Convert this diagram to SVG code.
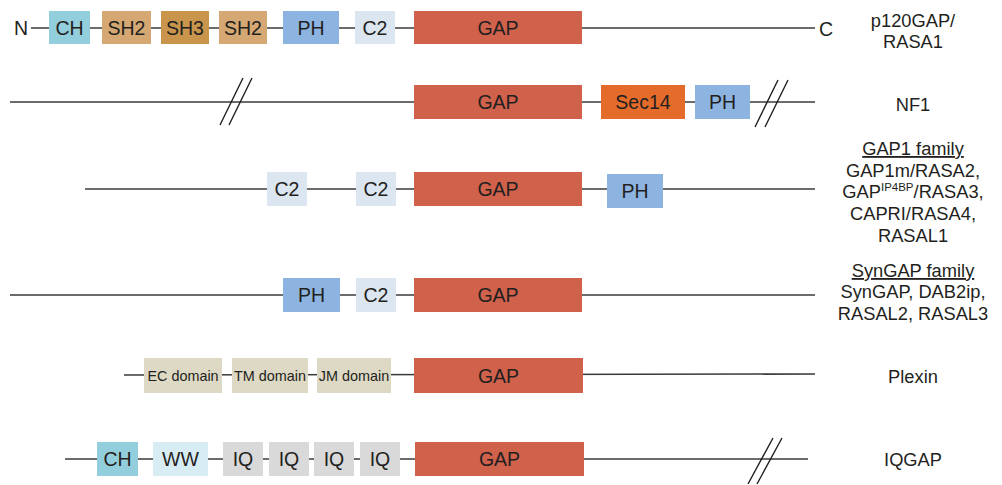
<svg xmlns="http://www.w3.org/2000/svg" width="1002" height="485" viewBox="0 0 1002 485">
  <style>
    text { font-family: "Liberation Sans", Arial, sans-serif; fill: #231f20; }
    .lbl { font-size: 19.5px; text-anchor: middle; }
    .dom { font-size: 14.4px; text-anchor: middle; }
    .name { font-size: 18.3px; text-anchor: middle; }
    .bb { stroke: #3a3a3a; stroke-width: 1.6; fill: none; }
    .brk { stroke: #231f20; stroke-width: 1.4; fill: none; }
    .ch { fill: #92cedc; }
    .sh2 { fill: #d4a773; }
    .sh3 { fill: #c9954c; }
    .ph { fill: #8db3e0; }
    .c2 { fill: #dbe6f1; }
    .gap { fill: #d0614b; }
    .sec { fill: #e56b2a; }
    .tm { fill: #ddd9c4; }
    .ww { fill: #d8ecf4; }
    .iq { fill: #d9d9d9; }
  </style>

  <!-- backbone lines and break marks -->
  <g id="connectors">
    <line class="bb" x1="31" y1="28" x2="815" y2="28"/>
    <line class="bb" x1="10" y1="102" x2="815" y2="102"/>
    <path class="brk" d="M220,125 L243,78 M229,125 L252,78"/>
    <path class="brk" d="M755,127 L778,80 M765,127 L788,80"/>
    <line class="bb" x1="85" y1="189" x2="815" y2="189"/>
    <line class="bb" x1="10" y1="295" x2="815" y2="295"/>
    <line class="bb" x1="124" y1="375" x2="815" y2="374"/>
    <line class="bb" x1="65" y1="459" x2="808" y2="459"/>
    <path class="brk" d="M748,484 L773,438 M757,484 L782,438"/>
  </g>

  <!-- p120GAP / RASA1 -->
  <g id="p120gap">
    <text class="lbl" x="21" y="35">N</text>
    <rect class="ch" x="49" y="11" width="41" height="33"/>
    <text class="lbl" x="69.5" y="35">CH</text>
    <rect class="sh2" x="102" y="11" width="49" height="33"/>
    <text class="lbl" x="126.5" y="35">SH2</text>
    <rect class="sh3" x="161" y="11" width="48" height="33"/>
    <text class="lbl" x="185" y="35">SH3</text>
    <rect class="sh2" x="219" y="11" width="48" height="33"/>
    <text class="lbl" x="243" y="35">SH2</text>
    <rect class="ph" x="283" y="11" width="56" height="33"/>
    <text class="lbl" x="311" y="35">PH</text>
    <rect class="c2" x="355" y="11" width="40" height="33"/>
    <text class="lbl" x="375" y="35">C2</text>
    <rect class="gap" x="414" y="11" width="168" height="33"/>
    <text class="lbl" x="498" y="35">GAP</text>
    <text class="lbl" x="826" y="35.5">C</text>
    <text class="name" x="913" y="27">p120GAP/</text>
    <text class="name" x="913" y="48">RASA1</text>
  </g>

  <!-- NF1 -->
  <g id="nf1">
    <rect class="gap" x="414" y="85" width="168" height="34"/>
    <text class="lbl" x="498" y="109">GAP</text>
    <rect class="sec" x="601" y="85" width="84" height="34"/>
    <text class="lbl" x="643" y="109">Sec14</text>
    <rect class="ph" x="695" y="85" width="55" height="34"/>
    <text class="lbl" x="722.5" y="109">PH</text>
    <text class="name" x="913" y="111">NF1</text>
  </g>

  <!-- GAP1 family -->
  <g id="gap1">
    <rect class="c2" x="267" y="172" width="40" height="34"/>
    <text class="lbl" x="287" y="196">C2</text>
    <rect class="c2" x="356" y="172" width="40" height="34"/>
    <text class="lbl" x="376" y="196">C2</text>
    <rect class="gap" x="414" y="172" width="168" height="34"/>
    <text class="lbl" x="498" y="196">GAP</text>
    <rect class="ph" x="607" y="174" width="56" height="34"/>
    <text class="lbl" x="635" y="198">PH</text>
    <text class="name" x="913" y="155" text-decoration="underline">GAP1 family</text>
    <text class="name" x="913" y="176.5">GAP1m/RASA2,</text>
    <text class="name" x="913" y="198">GAP<tspan font-size="11.5" dy="-7">IP4BP</tspan><tspan dy="7">/RASA3,</tspan></text>
    <text class="name" x="913" y="220">CAPRI/RASA4,</text>
    <text class="name" x="913" y="242">RASAL1</text>
  </g>

  <!-- SynGAP family -->
  <g id="syngap">
    <rect class="ph" x="283" y="278" width="57" height="34"/>
    <text class="lbl" x="311.5" y="302">PH</text>
    <rect class="c2" x="356" y="278" width="40" height="34"/>
    <text class="lbl" x="376" y="302">C2</text>
    <rect class="gap" x="414" y="278" width="168" height="34"/>
    <text class="lbl" x="498" y="302">GAP</text>
    <text class="name" x="913" y="277" text-decoration="underline">SynGAP family</text>
    <text class="name" x="913" y="298">SynGAP, DAB2ip,</text>
    <text class="name" x="913" y="319.5">RASAL2, RASAL3</text>
  </g>

  <!-- Plexin -->
  <g id="plexin">
    <rect class="tm" x="144" y="358" width="78" height="35"/>
    <text class="dom" x="183" y="380.5">EC domain</text>
    <rect class="tm" x="232" y="358" width="76" height="35"/>
    <text class="dom" x="270" y="380.5">TM domain</text>
    <rect class="tm" x="317" y="358" width="74" height="35"/>
    <text class="dom" x="354" y="380.5">JM domain</text>
    <rect class="gap" x="414" y="358" width="169" height="35"/>
    <text class="lbl" x="498.5" y="382.5">GAP</text>
    <text class="name" x="913" y="383">Plexin</text>
  </g>

  <!-- IQGAP -->
  <g id="iqgap">
    <rect class="ch" x="97" y="442" width="41" height="34"/>
    <text class="lbl" x="117.5" y="466">CH</text>
    <rect class="ww" x="153" y="442" width="55" height="34"/>
    <text class="lbl" x="180.5" y="466">WW</text>
    <rect class="iq" x="223" y="442" width="40" height="34"/>
    <text class="lbl" x="243" y="466">IQ</text>
    <rect class="iq" x="269" y="442" width="40" height="34"/>
    <text class="lbl" x="289" y="466">IQ</text>
    <rect class="iq" x="314" y="442" width="40" height="34"/>
    <text class="lbl" x="334" y="466">IQ</text>
    <rect class="iq" x="360" y="442" width="40" height="34"/>
    <text class="lbl" x="380" y="466">IQ</text>
    <rect class="gap" x="415" y="442" width="169" height="34"/>
    <text class="lbl" x="499.5" y="466">GAP</text>
    <text class="name" x="913" y="466">IQGAP</text>
  </g>
</svg>
